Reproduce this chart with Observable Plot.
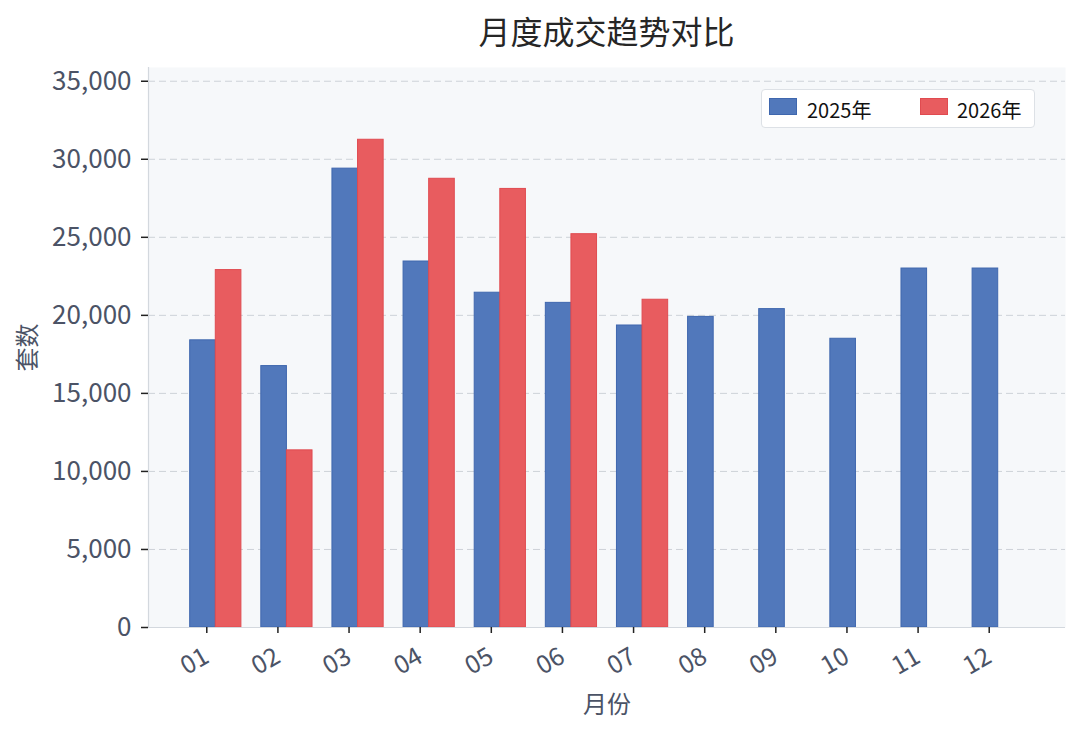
<!DOCTYPE html>
<html><head><meta charset="utf-8">
<script src="https://cdn.jsdelivr.net/npm/d3@7"></script>
<script src="https://cdn.jsdelivr.net/npm/@observablehq/plot@0.6"></script>
<style>
body{margin:0;background:#fff;font-family:"Noto Sans CJK SC","Noto Sans",sans-serif;}
#wrap{position:relative;width:1080px;height:735px;overflow:hidden;}
#title{position:absolute;left:148px;top:0;width:917px;height:55px;line-height:60px;text-align:center;font-size:32px;font-weight:400;color:#262626;}
#chart{position:absolute;left:0;top:55px;}
#legend{position:absolute;left:761px;top:89px;width:272px;height:37px;background:#fff;border:1px solid #dde1e6;border-radius:4px;}
.sw{position:absolute;top:8px;width:28px;height:17px;box-sizing:border-box;}
.lt{position:absolute;top:1px;line-height:37px;font-size:20px;color:#111;}
</style></head><body>
<div id="wrap">
<div id="title">月度成交趋势对比</div>
<div id="chart"></div>
<div id="legend">
  <div class="sw" id="sw0" style="left:7px"></div><div class="lt" id="lt0" style="left:45px"></div>
  <div class="sw" id="sw1" style="left:158px"></div><div class="lt" id="lt1" style="left:195px"></div>
</div>
</div>
<script>
const months = ["01","02","03","04","05","06","07","08","09","10","11","12"];
const years = ["2025年","2026年"];
const sales2025 = [18400, 16750, 29400, 23450, 21450, 20800, 19350, 19900, 20400, 18500, 23000, 23000];
const sales2026 = [22900, 11350, 31250, 28750, 28100, 25200, 21000];
const yTicks = [0, 5000, 10000, 15000, 20000, 25000, 30000, 35000];
const fills = ["#5178bb", "#e85c5f"];
const edges = ["#3f67ae", "#e04b50"];

const rows2025 = sales2025.map((v, i) => ({month: months[i], idx: i, year: years[0], value: v}));
const rows2026 = sales2026.map((v, i) => ({month: months[i], idx: i, year: years[1], value: v}));

const barWidth = 0.36;
const xDomain = [-0.946, 11.946];
const labelColor = "#4b5366";

const chart = Plot.plot({
  width: 1080, height: 680,
  marginTop: 12, marginBottom: 108, marginLeft: 148, marginRight: 15,
  style: {fontFamily: '"Noto Sans CJK SC","Noto Sans",sans-serif', background: "transparent", color: labelColor, overflow: "visible"},
  x: {domain: xDomain},
  y: {domain: [0, 35880]},
  marks: [
    Plot.frame({fill: "#f6f8fa", stroke: null}),
    Plot.gridY(yTicks, {stroke: "#cdd2d8", strokeOpacity: 1, strokeDasharray: "7,4", strokeWidth: 1}),
    Plot.rectY(rows2025, {x1: d => d.idx - barWidth, x2: d => d.idx, y1: 0, y2: "value", fill: fills[0], stroke: edges[0], strokeWidth: 1}),
    Plot.rectY(rows2026, {x1: d => d.idx, x2: d => d.idx + barWidth, y1: 0, y2: "value", fill: fills[1], stroke: edges[1], strokeWidth: 1}),
    Plot.ruleY([0], {stroke: "#d3d8de", strokeWidth: 1.2}),
    Plot.ruleX([xDomain[0]], {stroke: "#d3d8de", strokeWidth: 1.2}),
    Plot.axisY({ticks: yTicks, tickFormat: d3.format(","), tickSize: 7, tickPadding: 10, fontSize: 26, stroke: "#222", fill: labelColor, strokeWidth: 1.5, label: null}),
    Plot.axisX({ticks: d3.range(12), tickFormat: i => months[i], tickRotate: -30, tickSize: 6, tickPadding: 21, dx: -9, fontSize: 25, stroke: "#222", fill: labelColor, strokeWidth: 1.5, label: null}),
    Plot.text(["套数"], {frameAnchor: "left", dx: -120, rotate: -90, textAnchor: "middle", lineAnchor: "middle", fontSize: 24, fill: labelColor}),
    Plot.text(["月份"], {frameAnchor: "bottom", dy: 78, textAnchor: "middle", lineAnchor: "middle", fontSize: 24, fill: labelColor})
  ]
});
document.getElementById("chart").appendChild(chart);

[0, 1].forEach(k => {
  const sw = document.getElementById("sw" + k);
  sw.style.background = fills[k];
  sw.style.border = "1px solid " + edges[k];
  document.getElementById("lt" + k).textContent = years[k];
});
</script>
</body></html>
